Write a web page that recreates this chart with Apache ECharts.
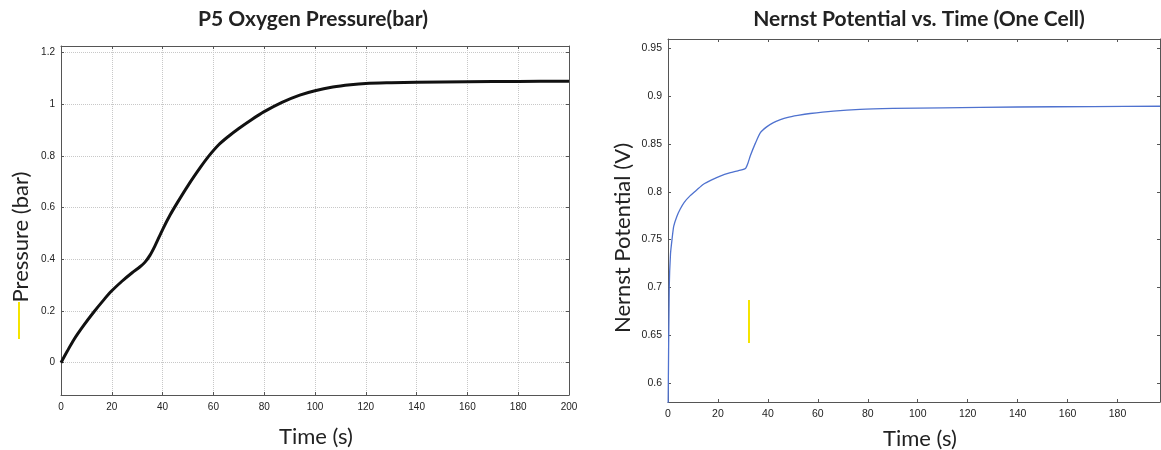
<!DOCTYPE html>
<html>
<head>
<meta charset="utf-8">
<script src="https://cdn.jsdelivr.net/npm/echarts@6/dist/echarts.min.js"></script>
<style>
  html, body { margin: 0; padding: 0; background: #fff; }
  #chart { width: 1161px; height: 450px; }
</style>
</head>
<body>
<div id="chart"></div>
<script>
// P5 oxygen pressure (bar) vs time (s)
var pressureTime = [0, 2.5, 5, 9, 13, 17, 20, 24, 28, 31, 33, 35, 37, 40, 43, 46, 50, 55, 58, 62, 66, 70, 75, 80, 87, 94, 100, 107, 114, 120, 130, 140, 160, 180, 200];
var pressureValues = [0, 0.045, 0.088, 0.145, 0.197, 0.245, 0.278, 0.315, 0.348, 0.37, 0.388, 0.415, 0.452, 0.515, 0.572, 0.622, 0.685, 0.757, 0.797, 0.842, 0.876, 0.906, 0.94, 0.971, 1.007, 1.035, 1.052, 1.066, 1.075, 1.08, 1.083, 1.085, 1.087, 1.088, 1.089];

// Nernst potential (V) of one cell vs time (s)
var nernstTime = [0, 0.5, 1, 1.6, 2.3, 3.5, 4.9, 6.5, 8.9, 11.5, 14.2, 17.5, 20.9, 25, 28, 31, 32, 33, 35, 37, 39.5, 42.2, 45, 47.6, 52, 56.9, 66.2, 76.9, 90, 110, 140, 170, 197];
var nernstValues = [0.56, 0.70, 0.735, 0.75, 0.764, 0.774, 0.782, 0.789, 0.796, 0.802, 0.808, 0.8125, 0.8165, 0.82, 0.822, 0.8245, 0.83, 0.838, 0.851, 0.862, 0.868, 0.8725, 0.8755, 0.8777, 0.88, 0.882, 0.8846, 0.8864, 0.8873, 0.888, 0.8888, 0.8893, 0.8896];

var timeTicks = [0, 20, 40, 60, 80, 100, 120, 140, 160, 180, 200];
var timeTicksRight = [0, 20, 40, 60, 80, 100, 120, 140, 160, 180];
var pressureTicks = [0, 0.2, 0.4, 0.6, 0.8, 1, 1.2];
var nernstTicks = [0.6, 0.65, 0.7, 0.75, 0.8, 0.85, 0.9, 0.95];

function pairs(xs, ys) {
  return xs.map(function (x, i) { return [x, ys[i]]; });
}

var axisColor = '#555';
var nameFont = 'Lato';

function labelStyle(size) {
  return { color: '#222', fontSize: size, fontFamily: 'Liberation Sans' };
}

function xAxisDef(grid, ticks, max, pos, showLabels, gridLines, size) {
  return {
    type: 'value', gridIndex: grid, position: pos, min: 0, max: max,
    axisLine: { show: true, onZero: false, lineStyle: { color: axisColor, width: 1 } },
    axisTick: { show: true, inside: true, length: 3, customValues: ticks, lineStyle: { color: axisColor } },
    axisLabel: { show: showLabels, customValues: ticks, margin: 7, textStyle: labelStyle(size) },
    splitLine: { show: gridLines, lineStyle: { type: 'dotted', color: '#c8c8c8' } }
  };
}

function yAxisDef(grid, ticks, min, max, pos, showLabels, gridLines, size) {
  return {
    type: 'value', gridIndex: grid, position: pos, min: min, max: max,
    axisLine: { show: true, onZero: false, lineStyle: { color: axisColor, width: 1 } },
    axisTick: { show: true, inside: true, length: 3, customValues: ticks, lineStyle: { color: axisColor } },
    axisLabel: { show: showLabels, customValues: ticks, margin: 6, textStyle: labelStyle(size) },
    splitLine: { show: gridLines, lineStyle: { type: 'dotted', color: '#c8c8c8' } }
  };
}

var option = {
  animation: false,
  backgroundColor: '#fff',
  title: [
    { text: 'P5 Oxygen Pressure(bar)', left: 308, top: 4, textAlign: 'center',
      textStyle: { fontFamily: nameFont, fontSize: 21, fontWeight: 'bold', color: '#222' } },
    { text: 'Nernst Potential vs. Time (One Cell)', left: 914, top: 4, textAlign: 'center',
      textStyle: { fontFamily: nameFont, fontSize: 21, fontWeight: 'bold', color: '#222' } }
  ],
  grid: [
    { left: 61, top: 46, width: 508, height: 349 },
    { left: 668, top: 39, width: 492, height: 363 }
  ],
  xAxis: [
    xAxisDef(0, timeTicks, 200, 'bottom', true, true, 10),
    xAxisDef(0, timeTicks, 200, 'top', false, false, 10),
    xAxisDef(1, timeTicksRight, 197, 'bottom', true, false, 10.5),
    xAxisDef(1, timeTicksRight, 197, 'top', false, false, 10.5)
  ],
  yAxis: [
    yAxisDef(0, pressureTicks, -0.125, 1.225, 'left', true, true, 10),
    yAxisDef(0, pressureTicks, -0.125, 1.225, 'right', false, false, 10),
    yAxisDef(1, nernstTicks, 0.58, 0.96, 'left', true, false, 10.5),
    yAxisDef(1, nernstTicks, 0.58, 0.96, 'right', false, false, 10.5)
  ],
  series: [
    {
      name: 'Pressure', type: 'line', xAxisIndex: 0, yAxisIndex: 0,
      data: pairs(pressureTime, pressureValues),
      showSymbol: false, smooth: 0.3,
      lineStyle: { color: '#111', width: 3 }
    },
    {
      name: 'Nernst', type: 'line', xAxisIndex: 2, yAxisIndex: 2,
      data: pairs(nernstTime, nernstValues),
      showSymbol: false, smooth: 0.2,
      lineStyle: { color: '#4f72cf', width: 1.3 }
    }
  ],
  graphic: [
    { type: 'text', x: 21, y: 237, rotation: Math.PI / 2,
      style: { text: 'Pressure (bar)', fontFamily: nameFont, fontSize: 22, fill: '#222', textAlign: 'center', textVerticalAlign: 'middle' } },
    { type: 'text', x: 316, y: 437,
      style: { text: 'Time (s)', fontFamily: nameFont, fontSize: 22, fill: '#222', textAlign: 'center', textVerticalAlign: 'middle' } },
    { type: 'text', x: 623, y: 238, rotation: Math.PI / 2,
      style: { text: 'Nernst Potential (V)', fontFamily: nameFont, fontSize: 22, fill: '#222', textAlign: 'center', textVerticalAlign: 'middle' } },
    { type: 'text', x: 920, y: 439,
      style: { text: 'Time (s)', fontFamily: nameFont, fontSize: 22, fill: '#222', textAlign: 'center', textVerticalAlign: 'middle' } },
    { type: 'line', shape: { x1: 19, y1: 302, x2: 19, y2: 339 }, style: { stroke: '#f5e400', lineWidth: 2 } },
    { type: 'line', shape: { x1: 749, y1: 300, x2: 749, y2: 343 }, style: { stroke: '#f5e400', lineWidth: 2 } }
  ]
};

var myChart = echarts.init(document.getElementById('chart'));
myChart.setOption(option);
</script>
</body>
</html>
